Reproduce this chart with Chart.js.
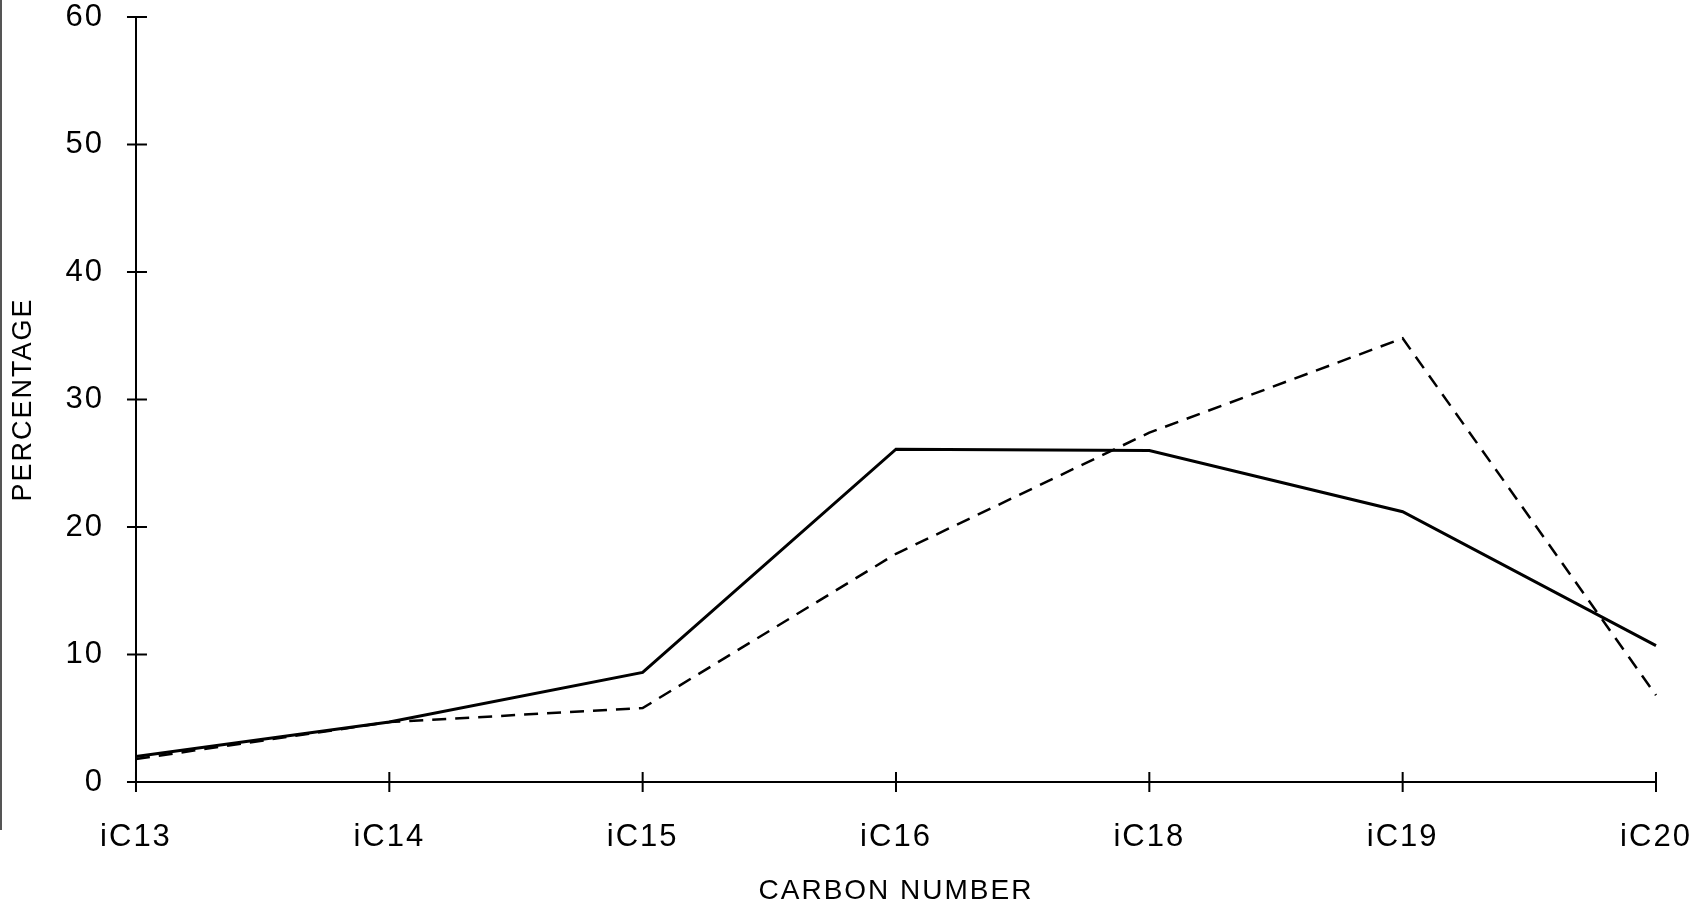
<!DOCTYPE html>
<html>
<head>
<meta charset="utf-8">
<script src="https://cdn.jsdelivr.net/npm/chart.js@4.4.1/dist/chart.umd.min.js"></script>
<style>
  html, body { margin: 0; padding: 0; background: #fff; }
  #wrap { position: relative; width: 1708px; height: 909px; }
  #edge { position: absolute; left: 0; top: 0; width: 2px; height: 830px; background: #555; }
</style>
</head>
<body>
<div id="wrap">
  <canvas id="c" width="1708" height="909"></canvas>
  <div id="edge"></div>
</div>
<script>
const categories = ['iC13', 'iC14', 'iC15', 'iC16', 'iC18', 'iC19', 'iC20'];
const solidSeries = [2.0, 4.7, 8.6, 26.1, 26.0, 21.2, 10.7];
const dashedSeries = [1.8, 4.7, 5.8, 17.9, 27.4, 34.8, 6.8];
const yTicks = [0, 10, 20, 30, 40, 50, 60];
const xTitle = 'CARBON NUMBER';
const yTitle = 'PERCENTAGE';

const FAMILY = '"Liberation Sans", Arial, sans-serif';

const spacing = {
  id: 'spacing',
  beforeLayout(chart) { chart.ctx.letterSpacing = '2px'; },
  beforeDraw(chart) { chart.ctx.letterSpacing = '2px'; }
};

// tick marks crossing the axes (drawn at the scales' own tick pixels)
const crossTicks = {
  id: 'crossTicks',
  afterDraw(chart) {
    const ctx = chart.ctx;
    const xs = chart.scales.x, ys = chart.scales.y;
    ctx.save();
    ctx.strokeStyle = '#000';
    ctx.lineWidth = 2;
    ctx.beginPath();
    xs.ticks.forEach((t, i) => {
      const px = xs.getPixelForTick(i);
      ctx.moveTo(px, ys.bottom + 10);
      ctx.lineTo(px, ys.bottom - 10);
    });
    ys.ticks.forEach((t, i) => {
      const py = ys.getPixelForTick(i);
      ctx.moveTo(xs.left - 9, py);
      ctx.lineTo(xs.left + 11, py);
    });
    ctx.stroke();
    ctx.restore();
  }
};

new Chart(document.getElementById('c'), {
  type: 'line',
  data: {
    labels: categories,
    datasets: [
      {
        label: 'solid',
        data: solidSeries,
        borderColor: '#000',
        borderWidth: 3,
        pointRadius: 0,
        tension: 0,
        fill: false
      },
      {
        label: 'dashed',
        data: dashedSeries,
        borderColor: '#000',
        borderWidth: 2.5,
        borderDash: [14, 9],
        pointRadius: 0,
        tension: 0,
        fill: false
      }
    ]
  },
  options: {
    responsive: false,
    animation: false,
    devicePixelRatio: 1,
    layout: { padding: { top: 0, right: 52, bottom: 0, left: 0 } },
    plugins: { legend: { display: false }, tooltip: { enabled: false } },
    scales: {
      x: {
        type: 'category',
        offset: false,
        grid: { display: true, drawOnChartArea: false, drawTicks: true, tickLength: 40, tickColor: 'rgba(0,0,0,0)', color: 'rgba(0,0,0,0)' },
        border: { display: true, color: '#000', width: 2 },
        ticks: { color: '#000', font: { family: FAMILY, size: 31, lineHeight: 1.0 }, padding: 0, maxRotation: 0, autoSkip: false },
        title: { display: true, text: xTitle, color: '#000', font: { family: FAMILY, size: 28, lineHeight: 1.0 }, padding: { top: 24, bottom: 4 } }
      },
      y: {
        type: 'linear',
        min: 0,
        max: 60,
        afterBuildTicks(scale) { scale.ticks = yTicks.map(v => ({ value: v })); },
        grid: { display: true, drawOnChartArea: false, drawTicks: true, tickLength: 32, tickColor: 'rgba(0,0,0,0)', color: 'rgba(0,0,0,0)' },
        border: { display: true, color: '#000', width: 2 },
        ticks: { color: '#000', font: { family: FAMILY, size: 31, lineHeight: 1.1 }, padding: 0 },
        title: { display: true, text: yTitle, color: '#000', font: { family: FAMILY, size: 27, lineHeight: 1.0 }, padding: { top: 10.5, bottom: 28 } }
      }
    }
  },
  plugins: [spacing, crossTicks]
});
</script>
</body>
</html>
